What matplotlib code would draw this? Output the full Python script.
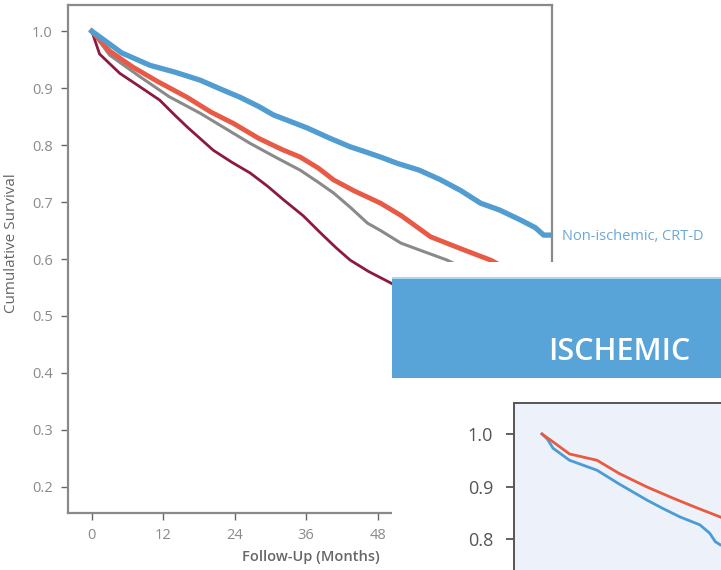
import matplotlib
matplotlib.use("Agg")
import matplotlib.pyplot as plt
from matplotlib.patches import Rectangle

plt.rcParams['font.family'] = ['Open Sans', 'DejaVu Sans']

W, H = 721, 570

# main panel: survival by group (months, cumulative survival)
blue_x = [0, 2, 5, 9.8, 14, 18.2, 21.5, 24.9, 28, 30.5, 33, 36.2, 40, 43.4, 46, 48.5, 51.3, 55, 58.6, 62, 65.3, 68.5, 72.1, 74.5, 75.9, 77]
blue_y = [1.0, 0.985, 0.962, 0.94, 0.928, 0.914, 0.899, 0.884, 0.868, 0.853, 0.843, 0.830, 0.812, 0.797, 0.788, 0.779, 0.768, 0.756, 0.739, 0.720, 0.698, 0.686, 0.668, 0.655, 0.642, 0.642]

red_x = [0, 3, 6.9, 11, 16, 20, 23.8, 28, 32, 35, 38, 40.6, 44, 48.5, 52, 56.9, 62, 67, 72, 77]
red_y = [1.0, 0.965, 0.937, 0.912, 0.884, 0.858, 0.838, 0.812, 0.792, 0.779, 0.760, 0.739, 0.720, 0.698, 0.676, 0.639, 0.618, 0.598, 0.570, 0.545]

gray_x = [0, 3, 8.1, 13, 18.2, 22, 26.6, 31, 35, 38, 40.6, 43.5, 46.3, 48.5, 51.9, 55, 59.7, 65, 72, 77]
gray_y = [1.0, 0.958, 0.92, 0.885, 0.856, 0.832, 0.803, 0.778, 0.756, 0.735, 0.716, 0.690, 0.663, 0.650, 0.628, 0.616, 0.598, 0.570, 0.530, 0.505]

dred_x = [0, 1.3, 4.7, 8, 11.4, 14, 16, 20.4, 23.5, 26.6, 29.5, 32.2, 35.5, 38.4, 41, 43.4, 46.5, 50.2, 53, 60, 70, 77]
dred_y = [1.0, 0.96, 0.926, 0.903, 0.879, 0.852, 0.832, 0.791, 0.770, 0.751, 0.728, 0.704, 0.676, 0.646, 0.620, 0.598, 0.578, 0.558, 0.540, 0.500, 0.440, 0.400]

main_xticks = [0, 12, 24, 36, 48, 60, 72]
main_yticks = [0.2, 0.3, 0.4, 0.5, 0.6, 0.7, 0.8, 0.9, 1.0]

# inset panel (ischemic)
isc_red_x = [0, 2, 5, 10, 14, 19.1, 24, 28, 32.4, 36]
isc_red_y = [1.0, 0.985, 0.962, 0.95, 0.925, 0.899, 0.877, 0.860, 0.842, 0.825]
isc_blue_x = [0, 1, 2, 5, 10, 14, 19.1, 22, 25.1, 28.7, 30.5, 31.5, 32.4, 36]
isc_blue_y = [1.0, 0.99, 0.973, 0.950, 0.931, 0.905, 0.874, 0.858, 0.842, 0.827, 0.811, 0.795, 0.789, 0.775]
isc_yticks = [0.8, 0.9, 1.0]


def px_box(x0, y0, x1, y1):
    # pixel box (top-left origin) -> figure fraction rect
    return [x0 / W, 1 - y1 / H, (x1 - x0) / W, (y1 - y0) / H]


fig = plt.figure(figsize=(W / 100, H / 100), dpi=100)

ax = fig.add_axes(px_box(68, 5, 552, 513))
ax.plot(dred_x, dred_y, color='#8c1a3e', lw=2.0, zorder=2)
ax.plot(gray_x, gray_y, color='#8a8a8a', lw=2.2, zorder=3)
ax.plot(red_x, red_y, color='#e85a45', lw=3.5, zorder=4)
ax.plot(blue_x, blue_y, color='#519dd2', lw=3.8, zorder=5)
ax.set_xlim(-4, 77.3)
ax.set_ylim(0.154, 1.046)
ax.set_xticks(main_xticks)
ax.set_yticks(main_yticks)
ax.set_yticklabels(['%.1f' % v for v in main_yticks])
ax.tick_params(length=5, width=1, color='#666666', labelcolor='#8a8a8a', labelsize=10.5, pad=6)
for s in ax.spines.values():
    s.set_color('#8a8a8a')
    s.set_linewidth(1.6)

fig.text(12 / W, 1 - 243 / H, 'Cumulative Survival', fontsize=11, color='#666666',
         ha='center', va='center', rotation=90)
fig.text(311 / W, 1 - 557 / H, 'Follow-Up (Months)', fontsize=10.5, color='#666666',
         ha='center', va='center', fontweight='semibold')
fig.text(562 / W, 1 - 237 / H, 'Non-ischemic, CRT-D', fontsize=10.5, color='#6aa8d8',
         ha='left', va='center')

# overlapping panel
over = fig.add_axes(px_box(392, 262, W, H))
over.set_facecolor('white')
over.set_xlim(0, 1)
over.set_ylim(0, 1)
over.set_xticks([])
over.set_yticks([])
for s in over.spines.values():
    s.set_visible(False)
over.add_patch(Rectangle((0, 1 - (378 - 262) / (H - 262)), 1, (378 - 277) / (H - 262),
                         transform=over.transAxes, facecolor='#58a3d8', edgecolor='none'))
over.add_patch(Rectangle((0, 1 - (279 - 262) / (H - 262)), 1, 2 / (H - 262),
                         transform=over.transAxes, facecolor='#a9d9ef', edgecolor='none'))
fig.text(548 / W, 1 - 360 / H, 'ISCHEMIC', fontsize=22, color='white',
         fontweight='semibold', ha='left', va='baseline')

ax2 = fig.add_axes(px_box(514, 403, 914, 700))
ax2.set_facecolor('#edf1f9')
ax2.plot(isc_blue_x, isc_blue_y, color='#4b9bd6', lw=2.0)
ax2.plot(isc_red_x, isc_red_y, color='#ea5a40', lw=2.0)
ax2.set_xlim(-28 / 5.5, 400 / 5.5 - 28 / 5.5)
ax2.set_ylim(1 - (700 - 434) / 525, 1 + 31 / 525)
ax2.set_xticks([])
ax2.set_yticks(isc_yticks)
ax2.set_yticklabels(['%.1f' % v for v in isc_yticks])
ax2.tick_params(axis='y', length=6, width=1.3, color='#555555', labelcolor='#555555', labelsize=13, pad=9)
for s in ax2.spines.values():
    s.set_color('#555555')
    s.set_linewidth(1.4)

fig.savefig('out.png', dpi=100)
